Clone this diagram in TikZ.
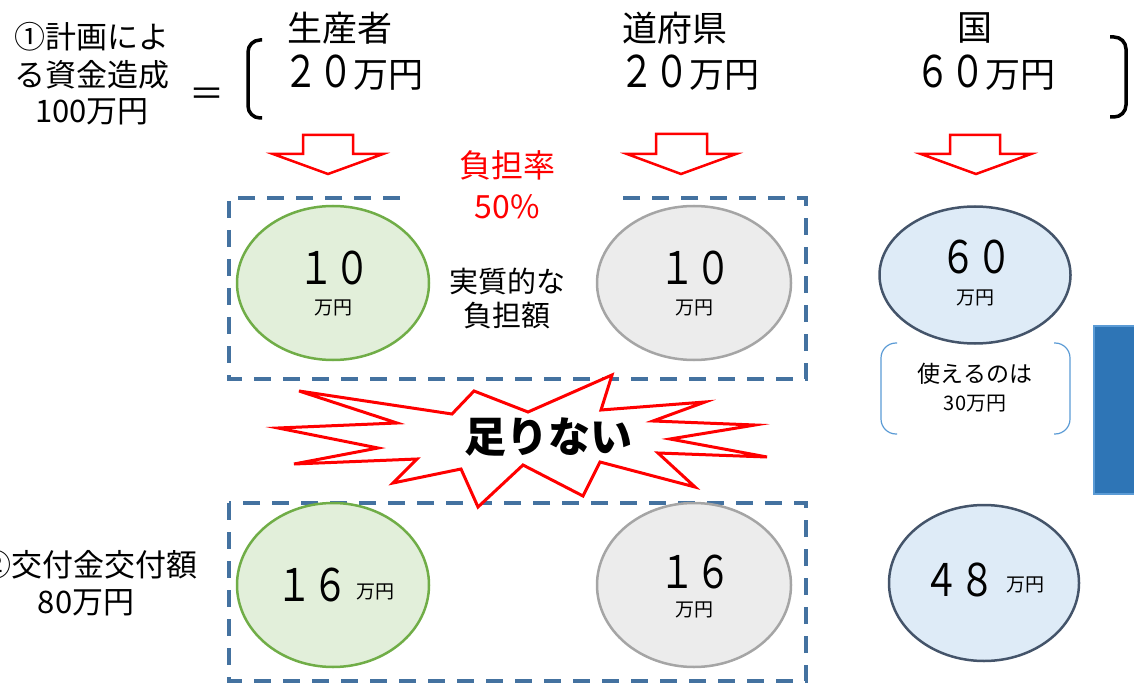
\documentclass[tikz,border=0pt]{standalone}
\usepackage{fontspec}
\usepackage{graphicx}
\usetikzlibrary{shapes.geometric}
\setmainfont{Noto Sans CJK JP}
\definecolor{boxblue}{RGB}{68,114,160}
\definecolor{gfill}{RGB}{226,239,218}
\definecolor{gline}{RGB}{112,173,71}
\definecolor{hfill}{RGB}{236,236,236}
\definecolor{hline}{RGB}{165,165,165}
\definecolor{bfill}{RGB}{222,235,247}
\definecolor{bline}{RGB}{68,84,106}
\definecolor{lblue}{RGB}{91,155,213}
\definecolor{rfill}{RGB}{46,117,182}
\newcommand{\tall}[1]{\scalebox{1}[1.25]{#1}}
\begin{document}
\begin{tikzpicture}[x=1pt,y=-1pt,
  t/.style={inner sep=0pt, anchor=center},
  f35/.style={font=\fontsize{35}{40}\selectfont},
  f31/.style={font=\fontsize{31}{36}\selectfont},
  f29/.style={font=\fontsize{29}{34}\selectfont},
  f20/.style={font=\fontsize{19}{22}\selectfont},
  big/.style={font=\fontsize{36}{40}\selectfont},
  dbox/.style={draw=boxblue, line width=4pt, dash pattern=on 17pt off 12pt},
  gel/.style={draw=gline, fill=gfill, line width=2.5pt, inner sep=0pt},
  hel/.style={draw=hline, fill=hfill, line width=2.5pt, inner sep=0pt},
  bel/.style={draw=bline, fill=bfill, line width=2.5pt, inner sep=0pt},
  barrow/.style={draw=red, fill=white, line width=2.5pt, line join=miter},
]
\useasboundingbox (0,0) rectangle (1134,684);
\clip (0,0) rectangle (1134,684);

% top formula
\node[t,f31] (l1) at (92,37) {①計画によ};
\node[t,f31] (l2) at (92,75) {る資金造成};
\node[t,f31] (l3) at (92,112) {100万円};
\node[t,f35] (eq) at (207,97) {＝};
\draw[line width=3.5pt, rounded corners=12pt] (262,40) -- (248,40) -- (248,118) -- (262,118);
\draw[line width=3.5pt, rounded corners=12pt] (1110,37) -- (1126,37) -- (1126,117) -- (1110,117);

\node[t,f35] (p1) at (340,28) {生産者};
\node[t,f35] (p2) at (353,73) {\tall{２０}万円};
\node[t,f35] (d1) at (675,28) {道府県};
\node[t,f35] (d2) at (689,73) {\tall{２０}万円};
\node[t,f35] (k1) at (975,28) {国};
\node[t,f35] (k2) at (985,73) {\tall{６０}万円};

% block arrows
\draw[barrow] (303,135)--(353,135)--(353,154)--(383,154)--(328,174)--(273,154)--(303,154)--cycle;
\draw[barrow] (656,134)--(707,134)--(707,154)--(736,154)--(681,174)--(627,154)--(656,154)--cycle;
\draw[barrow] (950,135)--(1000,135)--(1000,154)--(1031,154)--(976,174)--(921,154)--(950,154)--cycle;

% box 1
\draw[dbox] (400,198) -- (229,198) -- (229,379) -- (806,379) -- (806,198) -- (618,198);
\node[t,font=\fontsize{32}{36}\selectfont,text=red] (r1) at (507,165) {負担率};
\node[t,font=\fontsize{32}{36}\selectfont,text=red] (r2) at (507,207) {50\%};

\node[gel, ellipse, minimum width=192pt, minimum height=154pt] (g1) at (333,283) {};
\node[t,big] at (334,268) {\tall{１０}};
\node[t,f20] at (333,308) {万円};

\node[hel, ellipse, minimum width=194pt, minimum height=154pt] (h1) at (694,283) {};
\node[t,big] at (695,268) {\tall{１０}};
\node[t,f20] at (694,308) {万円};

\node[t,f29] (m1) at (507,281) {実質的な};
\node[t,f29] (m2) at (507,316) {負担額};

\node[bel, ellipse, minimum width=191pt, minimum height=137pt] (b1) at (975,275) {};
\node[t,big] at (976,257) {\tall{６０}};
\node[t,f20] at (975,298) {万円};

% small bracket box
\draw[lblue, line width=1.2pt, rounded corners=15pt] (897,343) -- (881,343) -- (881,434) -- (897,434);
\draw[lblue, line width=1.2pt, rounded corners=15pt] (1054,343) -- (1070,343) -- (1070,434) -- (1054,434);
\node[t,font=\fontsize{23}{26}\selectfont] (u1) at (975,374) {使えるのは};
\node[t,font=\fontsize{20}{24}\selectfont] (u2) at (975,404) {30万円};

% blue rect
\draw[draw=lblue, fill=rfill, line width=2pt] (1094,326) rectangle (1145,494);

% box 2
\draw[dbox] (229,503) rectangle (806,681);

% explosion
\draw[red, line width=3pt, fill=white, line join=miter]
 (299,391) -- (452,414) -- (474,391) -- (528,412) -- (612,375) -- (601,410) -- (705,402)
 -- (653,421) -- (755,425) -- (670,439) -- (767,457) -- (658,453) -- (695,487) -- (600,462)
 -- (583,496) -- (523,465) -- (478,507) -- (461,469) -- (393,483) -- (417,459) -- (294,464)
 -- (378,448) -- (278,428) -- (397,423) -- cycle;
\node[t,font=\fontsize{42}{46}\selectfont\bfseries] (tn) at (548,437) {足りない};

% bottom row
\node[t,f31,anchor=east] (n1) at (198,565) {②交付金交付額};
\node[t,f31] (n2) at (86,603) {80万円};

\node[gel, ellipse, minimum width=192pt, minimum height=164pt] (g2) at (333,585) {};
\node[t,big] at (312,585) {\tall{１６}};
\node[t,f20] at (375,592) {万円};

\node[hel, ellipse, minimum width=194pt, minimum height=164pt] (h2) at (694,585) {};
\node[t,big] at (695,572) {\tall{１６}};
\node[t,f20] at (694,610) {万円};

\node[bel, ellipse, minimum width=190pt, minimum height=156pt] (b2) at (984,583) {};
\node[t,big] at (959,580) {\tall{４８}};
\node[t,f20] at (1025,585) {万円};
\end{tikzpicture}
\end{document}
